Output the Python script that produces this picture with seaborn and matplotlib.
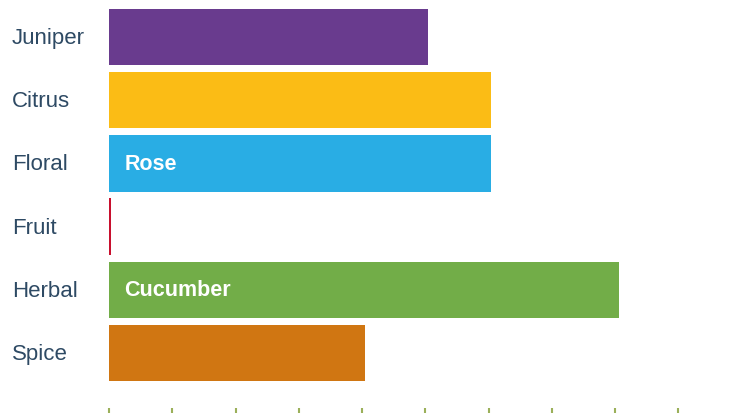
import matplotlib
matplotlib.use("Agg")
import matplotlib.pyplot as plt
import matplotlib.transforms as mtransforms
import seaborn as sns
import pandas as pd

# data
categorias = ["Juniper", "Citrus", "Floral", "Fruit", "Herbal", "Spice"]
valores = [5.04, 6.04, 6.04, 0.03, 8.06, 4.04]
etiquetas_barra = ["", "", "Rose", "", "Cucumber", ""]
colores = ["#693B8E", "#FBBC15", "#29ADE4", "#C8102E", "#72AD48", "#D07612"]
ticks_x = list(range(0, 10))

df = pd.DataFrame({"Categoria": categorias, "Valor": valores})

sns.set_style("white")
plt.rcParams["font.family"] = ["Liberation Sans", "DejaVu Sans"]

fig = plt.figure(figsize=(7.37, 4.14), dpi=100)
ax = fig.add_axes([109 / 737, 5 / 414, 620 / 737, 408 / 414])

sns.barplot(data=df, x="Valor", y="Categoria", hue="Categoria",
            palette=colores, orient="h", width=0.89, legend=False,
            saturation=1, linewidth=0, ax=ax)

ax.set_xlim(0, 9.8)
ax.set_ylim(5.87, -0.585)
ax.set_xticks(ticks_x)
ax.set_xticklabels([])
ax.set_xlabel("")
ax.set_ylabel("")
sns.despine(ax=ax, left=True, bottom=True, top=True, right=True)

ax.tick_params(axis="x", direction="out", length=10, width=1.5,
               color="#9BB05A", bottom=True)
ax.tick_params(axis="y", length=0, pad=70, labelsize=16,
               labelcolor="#2E4A64")
# nudge the category labels up a little
subir = mtransforms.ScaledTranslation(0, 2 / 100, fig.dpi_scale_trans)
for lbl in ax.get_yticklabels():
    lbl.set_horizontalalignment("left")
    lbl.set_transform(lbl.get_transform() + subir)

# labels inside bars
for i, txt in enumerate(etiquetas_barra):
    if txt:
        ax.annotate(txt, xy=(0, i), xytext=(11, 0), textcoords="offset points",
                    va="center", ha="left", color="white",
                    fontsize=15.5, fontweight="bold")

fig.savefig("out.png", dpi=100)
